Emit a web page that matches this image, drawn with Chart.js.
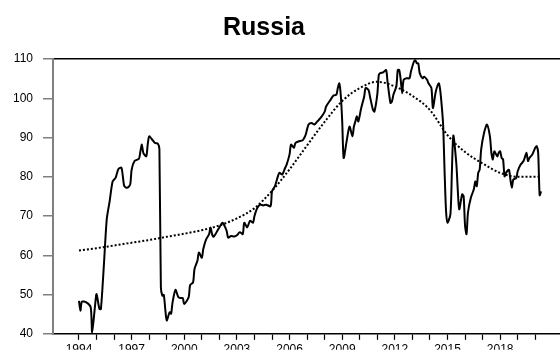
<!DOCTYPE html>
<html>
<head>
<meta charset="utf-8">
<script src="https://cdn.jsdelivr.net/npm/chart.js@4/dist/chart.umd.min.js"></script>
<style>
  html, body { margin: 0; padding: 0; background: #fff; }
  #c { display: block; }
</style>
</head>
<body>
<canvas id="c" width="560" height="351"></canvas>
<script>
// Real effective exchange rate index, Russia (monthly observations)
const months = [
  '1994-01','1994-02','1994-03','1994-06','1994-09','1994-10','1994-12',
  '1995-01','1995-03','1995-04','1995-06','1995-08','1995-10','1995-12',
  '1996-02','1996-04','1996-06','1996-07','1996-08','1996-10','1996-12',
  '1997-01','1997-03','1997-06','1997-07','1997-08','1997-09','1997-11','1997-12',
  '1998-01','1998-03','1998-05','1998-07','1998-08','1998-09','1998-10','1998-11','1998-12',
  '1999-01','1999-03','1999-04','1999-05','1999-07','1999-09','1999-11','1999-12',
  '2000-01','2000-04','2000-05','2000-07','2000-08','2000-10','2000-11',
  '2001-01','2001-02','2001-04','2001-06','2001-07','2001-08','2001-09','2001-11',
  '2002-01','2002-03','2002-04','2002-06','2002-07','2002-09','2002-11',
  '2003-01','2003-03','2003-05','2003-06','2003-08','2003-10','2003-12',
  '2004-01','2004-03','2004-05','2004-07','2004-09','2004-12',
  '2005-01','2005-03','2005-05','2005-06','2005-08','2005-10','2005-11',
  '2006-01','2006-02','2006-04','2006-05','2006-07','2006-10','2006-11','2006-12',
  '2007-02','2007-04','2007-06','2007-08','2007-09','2007-11',
  '2008-01','2008-02','2008-05','2008-07','2008-09','2008-10','2008-11','2008-12',
  '2009-01','2009-02','2009-04','2009-06','2009-08','2009-09','2009-10','2009-11','2009-12',
  '2010-02','2010-04','2010-05','2010-07','2010-08','2010-10','2010-11',
  '2011-01','2011-02','2011-03','2011-05','2011-07','2011-08','2011-10','2011-11','2011-12',
  '2012-02','2012-03','2012-04','2012-05','2012-06','2012-07','2012-09','2012-11','2012-12',
  '2013-02','2013-03','2013-04','2013-05','2013-06','2013-08','2013-09','2013-11','2013-12',
  '2014-02','2014-03','2014-05','2014-07','2014-08','2014-09','2014-10','2014-11','2014-12',
  '2015-01','2015-03','2015-04','2015-05','2015-07','2015-08','2015-09','2015-11','2015-12',
  '2016-01','2016-02','2016-03','2016-05','2016-07','2016-08','2016-09','2016-10','2016-11','2016-12',
  '2017-02','2017-04','2017-06','2017-07','2017-08','2017-09','2017-11','2017-12',
  '2018-01','2018-02','2018-03','2018-04','2018-05','2018-07','2018-08','2018-09','2018-10','2018-12',
  '2019-01','2019-03','2019-05','2019-07','2019-08','2019-09','2019-11',
  '2020-01','2020-02','2020-03','2020-04','2020-05'
];
const reer = [
  48.4,45.9,48.2,48.0,46.8,40.4,47.2,
  50.1,46.3,46.3,57.3,69.2,73.8,78.8,
  79.7,82.0,82.3,80.1,77.6,77.2,78.0,
  81.8,84.0,84.6,86.5,88.2,86.1,85.2,88.2,
  90.3,89.5,88.6,88.4,87.0,51.9,49.7,49.9,46.3,
  43.4,45.5,45.1,48.0,51.2,49.3,49.1,49.1,
  47.6,49.3,52.4,53.1,56.5,58.6,60.7,
  59.4,61.6,64.1,65.4,67.1,65.4,64.7,65.8,
  67.1,68.3,67.9,66.2,64.5,64.9,64.8,
  65.1,65.9,65.4,68.3,67.1,68.8,68.3,
  70.0,72.1,72.9,72.7,72.9,72.5,
  76.3,77.6,80.1,81.0,80.6,82.3,83.1,
  85.7,88.2,87.4,88.6,89.0,89.3,89.9,90.7,
  93.3,93.7,93.3,94.1,94.5,95.4,
  96.6,97.9,99.6,100.7,100.9,102.6,103.8,100.9,
  94.1,84.8,89.0,92.8,90.3,92.8,94.1,95.4,94.1,
  97.5,100.4,102.6,102.1,100.4,97.1,96.6,
  101.0,105.9,106.4,106.6,107.2,104.2,98.8,99.2,100.9,
  103.0,107.2,107.2,104.7,101.3,104.7,105.1,105.1,106.8,
  109.3,109.7,108.9,108.9,106.4,105.1,105.5,104.7,103.8,
  102.6,97.5,101.7,103.8,102.1,98.3,93.3,81.4,71.3,
  68.3,70.5,81.4,90.5,83.5,76.8,71.7,75.5,75.1,
  67.5,65.4,70.9,74.7,76.8,78.8,77.6,81.0,81.8,86.9,
  91.2,93.3,90.3,86.1,84.4,86.5,85.2,86.1,
  86.5,84.8,84.4,80.1,81.0,81.8,79.3,77.2,79.3,79.7,
  81.4,83.1,84.0,86.1,84.0,84.8,85.7,
  87.4,87.8,86.1,75.3,76.3
];

// Long-run trend of the index
const trendMonths = [
  '1994-01','1995-01','1996-01','1997-01','1998-01','1999-01','2000-01',
  '2001-01','2002-01','2003-01','2004-01','2005-01','2006-01','2007-01',
  '2008-01','2009-01','2010-01','2011-01','2012-01','2013-01','2014-01',
  '2015-01','2016-01','2017-01','2018-01','2019-01','2020-01','2020-03'
];
const trend = [
  61.2,61.8,62.5,63.2,63.9,64.7,65.5,
  66.4,67.6,69.4,72.0,76.4,81.9,88.0,
  94.0,99.3,102.6,104.2,103.0,100.6,97.0,
  90.6,86.3,83.4,81.0,80.0,80.0,80.0
];

// Axis ticks
const yearTicks = [];
for (let y = 1994; y <= 2020; y++) yearTicks.push(y);
const labelEvery = 3;
const yMin = 40, yMax = 110, yStep = 10;
const chartTitle = 'Russia';

function toYear(m) {
  const [y, mo] = m.split('-').map(Number);
  return y + (mo - 1) / 12;
}
const seriesPts = months.map((m, i) => ({ x: toYear(m), y: reer[i] }));
const trendPts = trendMonths.map((m, i) => ({ x: toYear(m), y: trend[i] }));

const titlePlugin = {
  id: 'plainTitle',
  afterDraw(chart) {
    const ctx = chart.ctx;
    ctx.save();
    ctx.fillStyle = '#000';
    ctx.font = 'bold 25px "Liberation Sans", Arial, sans-serif';
    ctx.textAlign = 'center';
    ctx.textBaseline = 'alphabetic';
    ctx.fillText(chartTitle, 264, 35);
    ctx.restore();
  }
};

new Chart(document.getElementById('c'), {
  type: 'line',
  data: {
    datasets: [
      {
        data: seriesPts,
        borderColor: '#000',
        borderWidth: 2,
        pointRadius: 0,
        tension: 0.25,
        fill: false
      },
      {
        data: trendPts,
        borderColor: '#000',
        borderWidth: 2,
        borderDash: [2, 2],
        pointRadius: 0,
        cubicInterpolationMode: 'monotone',
        fill: false
      }
    ]
  },
  options: {
    responsive: false,
    animation: false,
    devicePixelRatio: 1,
    layout: { padding: { top: 59, left: 0, right: 0, bottom: 0 } },
    plugins: {
      legend: { display: false },
      tooltip: { enabled: false },
      title: { display: false }
    },
    scales: {
      x: {
        type: 'linear',
        min: 1992.52,
        max: 2021.41,
        afterBuildTicks(scale) {
          scale.ticks = yearTicks.map(v => ({ value: v }));
        },
        afterFit(scale) { scale.height = 16; },
        ticks: {
          autoSkip: false,
          maxRotation: 0,
          padding: 3,
          color: '#000',
          font: { family: '"Liberation Sans", Arial, sans-serif', size: 12 },
          callback(v) { return (v - yearTicks[0]) % labelEvery === 0 ? String(v) : ''; }
        },
        grid: {
          display: true,
          drawOnChartArea: false,
          drawTicks: true,
          tickLength: 6,
          tickColor: '#000',
          tickWidth: 1.2
        },
        border: { display: true, color: '#000', width: 1.5 }
      },
      y: {
        min: yMin,
        max: yMax,
        afterFit(scale) { scale.width = 53; },
        ticks: {
          stepSize: yStep,
          padding: 10,
          color: '#000',
          font: { family: '"Liberation Sans", Arial, sans-serif', size: 12 }
        },
        grid: {
          display: true,
          drawTicks: true,
          tickLength: 10,
          tickColor: '#808080',
          tickWidth: 1.5,
          lineWidth: 1.5,
          color: (c) => (c.tick && c.tick.value === yMax ? '#000' : 'rgba(0,0,0,0)')
        },
        border: { display: true, color: '#808080', width: 2 }
      }
    }
  },
  plugins: [titlePlugin]
});
</script>
</body>
</html>
